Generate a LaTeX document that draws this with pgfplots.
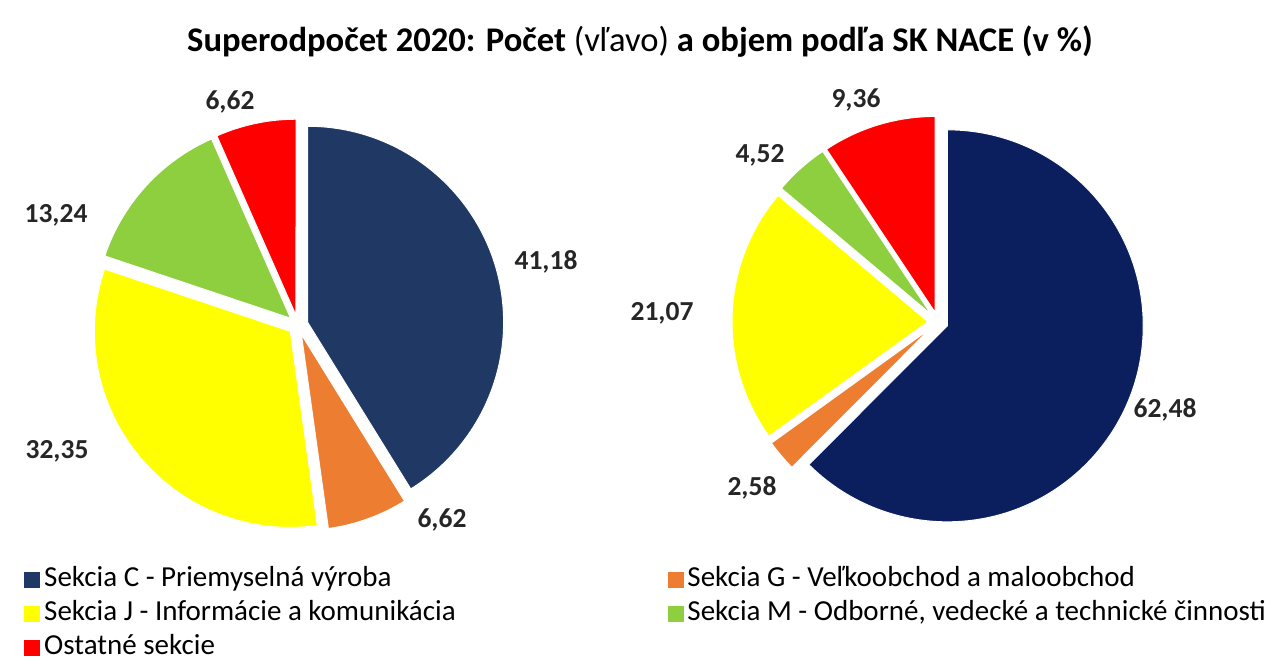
\documentclass[border=0pt]{standalone}
\usepackage{pgfplots}
\pgfplotsset{compat=1.18}
\usepackage{pgfplotstable}
\usetikzlibrary{calc}
\usepackage{fontspec}
\setmainfont{Carlito}
\definecolor{cCl}{HTML}{1F3864}
\definecolor{cCr}{HTML}{0B1F5E}
\definecolor{cG}{HTML}{ED7D31}
\definecolor{cJ}{HTML}{FFFF00}
\definecolor{cM}{HTML}{8DCF3F}
\definecolor{cO}{HTML}{FF0000}

% left pie: count (%)
\pgfplotstableread{
sect val col lx ly
C 41.18 cCl 546 262
G 6.62 cG 442 520
J 32.35 cJ 57 451
M 13.24 cM 56 215
O 6.62 cO 230 102
}\lefttab
% right pie: volume (%)
\pgfplotstableread{
sect val col lx ly
C 62.48 cCr 1165 410
G 2.58 cG 752 488
J 21.07 cJ 662 313
M 4.52 cM 760 155
O 9.36 cO 856 100
}\righttab

\def\rad{98bp}
\def\explode{5bp}

\newcommand\drawpie[3]{%
  \def\cum{0}%
  \pgfplotsforeachungrouped \i in {0,...,4}{%
    \pgfplotstablegetelem{\i}{val}\of{#1}\let\v\pgfplotsretval
    \pgfplotstablegetelem{\i}{col}\of{#1}\let\c\pgfplotsretval
    \pgfplotstablegetelem{\i}{lx}\of{#1}\let\lx\pgfplotsretval
    \pgfplotstablegetelem{\i}{ly}\of{#1}\let\ly\pgfplotsretval
    \pgfmathsetmacro\sa{90-3.6*\cum}%
    \pgfmathsetmacro\ea{90-3.6*(\cum+\v)}%
    \pgfmathsetmacro\ma{(\sa+\ea)/2}%
    \pgfmathsetmacro\cum{\cum+\v}%
    \edef\temp{\noexpand\fill[\c,draw=white,line width=0.5bp] ($(axis cs:#2,#3)+(\ma:\explode)$) -- ++(\sa:\rad) arc[start angle=\sa, end angle=\ea, radius=\rad] -- cycle;
      \noexpand\node[font=\noexpand\fontsize{13.75bp}{16bp}\noexpand\selectfont\noexpand\bfseries, text=black!85] at (axis cs:\lx,\ly) {\noexpand\pgfmathprintnumber{\v}};}%
    \temp
  }%
}

\begin{document}
\begin{tikzpicture}
\begin{axis}[
  scale only axis, width=638.5bp, height=331bp,
  xmin=0, xmax=1277, ymin=0, ymax=662, y dir=reverse,
  hide axis, clip=false,
  /pgf/number format/.cd, fixed, fixed zerofill, precision=2, use comma, assume math mode=true,
  /pgfplots/.cd,
  legend columns=2,
  legend cell align=left,
  legend style={at={(axis cs:24,565)}, anchor=north west, draw=none, fill=none,
    inner sep=0pt, font=\fontsize{14.5bp}{16bp}\selectfont,
    /tikz/every even column/.style={column sep=104bp},
    row sep=3bp, nodes={inner xsep=2bp, inner ysep=0bp, text height=10.5bp, text depth=3.5bp}},
]
\path (axis cs:0,0) rectangle (axis cs:1277,662);
\addlegendimage{legend image code/.code={\fill[cCl] (0bp,-3.75bp) rectangle (7.5bp,3.75bp);}}
\addlegendentry{Sekcia C - Priemyselná výroba}
\addlegendimage{legend image code/.code={\fill[cG] (0bp,-3.75bp) rectangle (7.5bp,3.75bp);}}
\addlegendentry{Sekcia G - Veľkoobchod a maloobchod}
\addlegendimage{legend image code/.code={\fill[cJ] (0bp,-3.75bp) rectangle (7.5bp,3.75bp);}}
\addlegendentry{Sekcia J - Informácie a komunikácia}
\addlegendimage{legend image code/.code={\fill[cM] (0bp,-3.75bp) rectangle (7.5bp,3.75bp);}}
\addlegendentry{Sekcia M - Odborné, vedecké a technické činnosti}
\addlegendimage{legend image code/.code={\fill[cO] (0bp,-3.75bp) rectangle (7.5bp,3.75bp);}}
\addlegendentry{Ostatné sekcie}

\drawpie{\lefttab}{298}{325}
\drawpie{\righttab}{938}{322}

\node[font=\fontsize{17.3bp}{20bp}\selectfont] at (axis cs:640,42)
  {\textbf{Superodpočet 2020: Počet} (vľavo) \textbf{a objem podľa SK NACE (v \%)}};
\end{axis}
\end{tikzpicture}
\end{document}
